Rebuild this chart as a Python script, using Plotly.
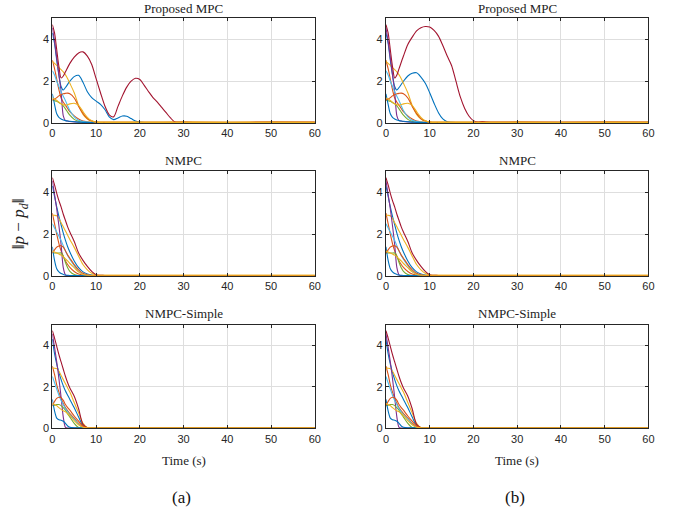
import plotly.graph_objects as go

# ---------------- data ----------------
T_FAST = [0, 0.5, 1, 1.5, 2, 2.5, 3, 3.5, 4, 5, 6, 7, 8, 9, 10, 12, 15, 20, 30, 40, 50, 60]
T_SLOW = [0, 0.5, 1, 1.5, 2, 2.5, 3, 4, 5, 6, 7, 8, 9, 10, 11, 12, 13, 14, 15, 16, 17, 18,
          19, 20, 21, 22, 23, 24, 25, 26, 27, 28, 30, 40, 50, 60]

X_TICKS = [0, 10, 20, 30, 40, 50, 60]
Y_TICKS = [0, 2, 4]

# Proposed MPC (a)
MPC_A_BLUE1 = [4.3, 3.8, 3.0, 2.3, 1.75, 1.58, 1.7, 2.0, 2.22, 2.28, 1.95, 1.5, 1.22, 1.05, 0.9, 0.65,
               0.3, 0.17, 0.25, 0.34, 0.33, 0.22, 0.1, 0.05, 0.03, 0.03, 0.03, 0.03, 0.03, 0.03, 0.03,
               0.03, 0.03, 0.03, 0.03, 0.03]
MPC_A_RED = [4.7, 4.3, 3.5, 2.7, 2.15, 2.25, 2.45, 2.85, 3.15, 3.35, 3.4, 3.2, 2.8, 2.12, 1.45, 0.82,
             0.4, 0.3, 0.8, 1.3, 1.72, 2.0, 2.14, 2.08, 1.8, 1.5, 1.22, 1.0, 0.75, 0.5, 0.25, 0.06,
             0.04, 0.03, 0.04, 0.04]
# Proposed MPC (b)
MPC_B_BLUE1 = [4.3, 3.8, 3.0, 2.3, 1.75, 1.58, 1.7, 2.0, 2.25, 2.38, 2.4, 2.2, 1.9, 1.45, 0.95, 0.5,
               0.2, 0.07, 0.04, 0.03, 0.03, 0.03, 0.03, 0.03, 0.03, 0.03, 0.03, 0.03, 0.03, 0.03, 0.03,
               0.03, 0.03, 0.03, 0.03, 0.03]
MPC_B_RED = [4.7, 4.3, 3.5, 2.7, 2.15, 2.3, 2.6, 3.2, 3.75, 4.1, 4.4, 4.55, 4.61, 4.58, 4.42, 4.15,
             3.7, 3.2, 2.75, 2.0, 1.25, 0.7, 0.33, 0.12, 0.05, 0.08, 0.05, 0.04, 0.04, 0.04, 0.04,
             0.04, 0.04, 0.04, 0.04, 0.04]
# Proposed MPC, other agents (shared by a and b)
MPC_ORANGE2 = [3.0, 2.6, 2.1, 1.6, 1.2, 1.0, 0.85, 0.7, 0.55, 0.35, 0.2, 0.1, 0.06, 0.04, 0.03, 0.03,
               0.03, 0.03, 0.03, 0.03, 0.03, 0.03]
MPC_YELLOW3 = [2.95, 2.85, 2.75, 2.65, 2.55, 2.45, 2.3, 2.12, 1.9, 1.45, 0.85, 0.42, 0.2, 0.1, 0.06, 0.05,
               0.05, 0.05, 0.06, 0.04, 0.06, 0.05]
MPC_PURPLE4 = [4.55, 3.9, 3.1, 2.3, 1.5, 0.35, 0.12, 0.1, 0.08, 0.06, 0.05, 0.04, 0.03, 0.03, 0.02, 0.02,
               0.02, 0.02, 0.02, 0.02, 0.02, 0.02]
MPC_GREEN5 = [1.1, 1.07, 1.04, 0.98, 0.92, 0.82, 0.68, 0.52, 0.38, 0.18, 0.09, 0.05, 0.04, 0.03, 0.03, 0.03,
              0.03, 0.03, 0.03, 0.03, 0.03, 0.03]
MPC_LBLUE6 = [2.5, 2.3, 2.0, 1.75, 1.5, 1.28, 1.07, 0.83, 0.6, 0.3, 0.14, 0.08, 0.05, 0.04, 0.03, 0.03,
              0.03, 0.03, 0.03, 0.03, 0.03, 0.03]
MPC_BLUE8 = [1.4, 0.9, 0.45, 0.28, 0.2, 0.15, 0.12, 0.1, 0.09, 0.07, 0.05, 0.04, 0.03, 0.03, 0.02, 0.02,
             0.02, 0.02, 0.02, 0.02, 0.02, 0.02]
MPC_ORANGE9 = [1.1, 1.15, 1.22, 1.3, 1.36, 1.4, 1.42, 1.43, 1.4, 1.2, 0.8, 0.47, 0.22, 0.1, 0.05, 0.04,
               0.04, 0.04, 0.04, 0.04, 0.04, 0.04]
MPC_YELLOW10 = [1.2, 1.15, 1.08, 1.0, 0.93, 0.88, 0.86, 0.88, 0.92, 0.95, 0.85, 0.55, 0.28, 0.12, 0.05, 0.04,
                0.04, 0.04, 0.04, 0.04, 0.04, 0.04]

# NMPC
NMPC_BLUE1 = [4.3, 3.8, 3.3, 2.85, 2.45, 2.05, 1.7, 1.4, 1.15, 0.72, 0.4, 0.2, 0.1, 0.05, 0.03, 0.03,
              0.03, 0.03, 0.03, 0.03, 0.03, 0.03]
NMPC_ORANGE2 = [3.0, 2.5, 2.0, 1.55, 1.2, 0.95, 0.72, 0.55, 0.42, 0.22, 0.1, 0.05, 0.03, 0.03, 0.03, 0.03,
                0.03, 0.03, 0.03, 0.03, 0.03, 0.03]
NMPC_YELLOW3 = [2.9, 2.9, 2.88, 2.75, 2.55, 2.35, 2.15, 1.95, 1.75, 1.37, 0.95, 0.55, 0.3, 0.13, 0.05, 0.04,
                0.04, 0.04, 0.04, 0.04, 0.04, 0.04]
NMPC_PURPLE4 = [4.55, 3.9, 3.2, 2.4, 1.5, 0.4, 0.05, 0.02, 0.02, 0.02, 0.02, 0.02, 0.02, 0.02, 0.02, 0.02,
                0.02, 0.02, 0.02, 0.02, 0.02, 0.02]
NMPC_GREEN5 = [1.1, 1.1, 1.1, 1.1, 1.1, 0.95, 0.65, 0.4, 0.22, 0.07, 0.03, 0.03, 0.03, 0.03, 0.03, 0.03,
               0.03, 0.03, 0.03, 0.03, 0.03, 0.03]
NMPC_LBLUE6 = [2.5, 2.3, 2.1, 1.9, 1.7, 1.45, 1.2, 0.98, 0.8, 0.5, 0.22, 0.1, 0.05, 0.03, 0.03, 0.03,
               0.03, 0.03, 0.03, 0.03, 0.03, 0.03]
NMPC_RED = [4.7, 4.35, 3.95, 3.6, 3.3, 2.95, 2.65, 2.35, 2.1, 1.65, 1.1, 0.75, 0.46, 0.22, 0.06, 0.03,
            0.03, 0.03, 0.03, 0.03, 0.03, 0.03]
NMPC_BLUE8 = [1.4, 0.75, 0.35, 0.2, 0.12, 0.08, 0.05, 0.04, 0.03, 0.03, 0.03, 0.03, 0.03, 0.03, 0.03, 0.03,
              0.03, 0.03, 0.03, 0.03, 0.03, 0.03]
NMPC_ORANGE9 = [1.1, 1.25, 1.38, 1.44, 1.45, 1.38, 1.2, 1.0, 0.85, 0.55, 0.3, 0.13, 0.06, 0.03, 0.03, 0.03,
                0.03, 0.03, 0.03, 0.03, 0.03, 0.03]
NMPC_YELLOW10 = [1.2, 1.15, 1.1, 1.05, 1.0, 0.92, 0.82, 0.72, 0.6, 0.4, 0.2, 0.08, 0.04, 0.04, 0.04, 0.04,
                 0.04, 0.04, 0.04, 0.04, 0.04, 0.04]

# NMPC-Simple
SIMP_BLUE1 = [4.3, 3.6, 3.1, 2.7, 2.35, 2.05, 1.8, 1.6, 1.4, 1.0, 0.55, 0.15, 0.03, 0.03, 0.03, 0.03,
              0.03, 0.03, 0.03, 0.03, 0.03, 0.03]
SIMP_ORANGE2 = [3.0, 2.6, 2.1, 1.75, 1.45, 1.2, 1.0, 0.85, 0.72, 0.5, 0.25, 0.08, 0.03, 0.03, 0.03, 0.03,
                0.03, 0.03, 0.03, 0.03, 0.03, 0.03]
SIMP_YELLOW3 = [2.9, 2.9, 2.88, 2.75, 2.55, 2.35, 2.15, 1.95, 1.75, 1.25, 0.75, 0.25, 0.05, 0.04, 0.04, 0.04,
                0.05, 0.05, 0.04, 0.04, 0.05, 0.05]
SIMP_PURPLE4 = [4.55, 3.9, 3.2, 2.4, 1.5, 0.55, 0.05, 0.02, 0.02, 0.02, 0.02, 0.02, 0.02, 0.02, 0.02, 0.02,
                0.02, 0.02, 0.02, 0.02, 0.02, 0.02]
SIMP_GREEN5 = [1.1, 1.12, 1.15, 1.15, 1.1, 1.0, 0.88, 0.7, 0.55, 0.25, 0.05, 0.03, 0.03, 0.03, 0.03, 0.03,
               0.03, 0.03, 0.03, 0.03, 0.03, 0.03]
SIMP_LBLUE6 = [2.5, 2.2, 1.9, 1.6, 1.35, 1.15, 0.95, 0.8, 0.65, 0.45, 0.2, 0.05, 0.03, 0.03, 0.03, 0.03,
               0.03, 0.03, 0.03, 0.03, 0.03, 0.03]
SIMP_RED = [4.7, 4.35, 3.95, 3.55, 3.2, 2.85, 2.5, 2.2, 1.95, 1.55, 0.95, 0.2, 0.04, 0.03, 0.03, 0.03,
            0.03, 0.03, 0.03, 0.03, 0.03, 0.03]
SIMP_BLUE8 = [1.4, 0.85, 0.5, 0.42, 0.4, 0.35, 0.25, 0.12, 0.06, 0.03, 0.03, 0.03, 0.03, 0.03, 0.03, 0.03,
              0.03, 0.03, 0.03, 0.03, 0.03, 0.03]
SIMP_ORANGE9 = [1.1, 1.3, 1.45, 1.5, 1.48, 1.35, 1.15, 1.0, 0.88, 0.6, 0.35, 0.12, 0.03, 0.03, 0.03, 0.03,
                0.03, 0.03, 0.03, 0.03, 0.03, 0.03]
SIMP_YELLOW10 = [1.2, 1.15, 1.1, 1.0, 0.92, 0.85, 0.8, 0.72, 0.62, 0.38, 0.18, 0.06, 0.03, 0.03, 0.03, 0.03,
                 0.03, 0.03, 0.03, 0.03, 0.03, 0.03]

TITLES = ["Proposed MPC", "NMPC", "NMPC-Simple"]
COLUMN_LABELS = ["(a)", "(b)"]

COLORS = {
    "blue": "#0072BD", "orange": "#D95319", "yellow": "#EDB120", "purple": "#7E2F8E",
    "green": "#77AC30", "lblue": "#4DBEEE", "red": "#A2142F",
}


def mpc_series(blue1, red):
    return [
        ("blue", T_SLOW, blue1), ("orange", T_FAST, MPC_ORANGE2), ("yellow", T_FAST, MPC_YELLOW3),
        ("purple", T_FAST, MPC_PURPLE4), ("green", T_FAST, MPC_GREEN5), ("lblue", T_FAST, MPC_LBLUE6),
        ("red", T_SLOW, red), ("blue", T_FAST, MPC_BLUE8), ("orange", T_FAST, MPC_ORANGE9),
        ("yellow", T_FAST, MPC_YELLOW10),
    ]


NMPC_SERIES = [
    ("blue", T_FAST, NMPC_BLUE1), ("orange", T_FAST, NMPC_ORANGE2), ("yellow", T_FAST, NMPC_YELLOW3),
    ("purple", T_FAST, NMPC_PURPLE4), ("green", T_FAST, NMPC_GREEN5), ("lblue", T_FAST, NMPC_LBLUE6),
    ("red", T_FAST, NMPC_RED), ("blue", T_FAST, NMPC_BLUE8), ("orange", T_FAST, NMPC_ORANGE9),
    ("yellow", T_FAST, NMPC_YELLOW10),
]
SIMP_SERIES = [
    ("blue", T_FAST, SIMP_BLUE1), ("orange", T_FAST, SIMP_ORANGE2), ("yellow", T_FAST, SIMP_YELLOW3),
    ("purple", T_FAST, SIMP_PURPLE4), ("green", T_FAST, SIMP_GREEN5), ("lblue", T_FAST, SIMP_LBLUE6),
    ("red", T_FAST, SIMP_RED), ("blue", T_FAST, SIMP_BLUE8), ("orange", T_FAST, SIMP_ORANGE9),
    ("yellow", T_FAST, SIMP_YELLOW10),
]

# panels: (row, col, series)
PANELS = [
    (0, 0, mpc_series(MPC_A_BLUE1, MPC_A_RED)),
    (0, 1, mpc_series(MPC_B_BLUE1, MPC_B_RED)),
    (1, 0, NMPC_SERIES), (1, 1, NMPC_SERIES),
    (2, 0, SIMP_SERIES), (2, 1, SIMP_SERIES),
]

# ---------------- layout ----------------
W, H = 690, 520
COL_PX = [(50, 316), (388, 654)]
ROW_PX = [(18.5, 124.6), (173.3, 279.3), (328.3, 433.5)]
TITLE_Y = [9, 162, 317]

SERIF = "Liberation Serif, Times New Roman, DejaVu Serif, serif"
SANS = "Liberation Sans, Arial, sans-serif"
AX_COLOR = "#262626"

fig = go.Figure()
layout = dict(
    width=W, height=H, margin=dict(l=0, r=0, t=0, b=0),
    paper_bgcolor="white", plot_bgcolor="white", showlegend=False,
)
annotations = []

for k, (r, c, series) in enumerate(PANELS, start=1):
    xa = "x" if k == 1 else f"x{k}"
    ya = "y" if k == 1 else f"y{k}"
    for cname, tt, vv in series:
        fig.add_trace(go.Scatter(
            x=tt, y=vv, mode="lines", xaxis=xa, yaxis=ya, hoverinfo="skip",
            line=dict(color=COLORS[cname], width=1.1, shape="spline", smoothing=0.8),
        ))
    x0, x1 = COL_PX[c]
    y0, y1 = ROW_PX[r]
    axcommon = dict(
        showgrid=True, gridcolor="#dedede", gridwidth=1, zeroline=False,
        showline=True, linecolor=AX_COLOR, linewidth=1, mirror="ticks",
        ticks="inside", ticklen=3, tickcolor=AX_COLOR, tickwidth=1,
        tickfont=dict(family=SANS, size=11, color=AX_COLOR),
    )
    layout["xaxis" if k == 1 else f"xaxis{k}"] = dict(
        axcommon, domain=[x0 / W, x1 / W], range=[0, 60], tickvals=X_TICKS,
        anchor=ya,
    )
    layout["yaxis" if k == 1 else f"yaxis{k}"] = dict(
        axcommon, domain=[1 - y1 / H, 1 - y0 / H], range=[0, 5], tickvals=Y_TICKS,
        anchor=xa,
    )
    annotations.append(dict(
        text=TITLES[r], x=(x0 + x1) / 2 / W, y=1 - TITLE_Y[r] / H, xref="paper", yref="paper",
        xanchor="center", yanchor="middle", showarrow=False,
        font=dict(family=SERIF, size=13, color="#222222"),
    ))

for c in range(2):
    x0, x1 = COL_PX[c]
    annotations.append(dict(
        text="Time (s)", x=(x0 + x1) / 2 / W, y=1 - 466 / H, xref="paper", yref="paper",
        xanchor="center", yanchor="middle", showarrow=False,
        font=dict(family=SERIF, size=13, color="#222222"),
    ))
    annotations.append(dict(
        text=COLUMN_LABELS[c], x=((x0 + x1) / 2 - 2) / W, y=1 - 503 / H, xref="paper", yref="paper",
        xanchor="center", yanchor="middle", showarrow=False,
        font=dict(family=SERIF, size=17, color="#111111"),
    ))

annotations.append(dict(
    text="‖<i>p</i> − <i>p</i><sub><i>d</i></sub>‖", x=18 / W, y=1 - 226 / H,
    xref="paper", yref="paper", xanchor="center", yanchor="middle", showarrow=False,
    textangle=-90, font=dict(family=SERIF, size=17, color="#222222"),
))

layout["annotations"] = annotations
fig.update_layout(**layout)
fig.write_html(
    "out.html", config={"displayModeBar": False, "staticPlot": True},
    post_script=(
        "document.body.style.margin='0';"
        "document.body.style.overflow='hidden';"
        "document.documentElement.style.overflow='hidden';"
    ),
)
